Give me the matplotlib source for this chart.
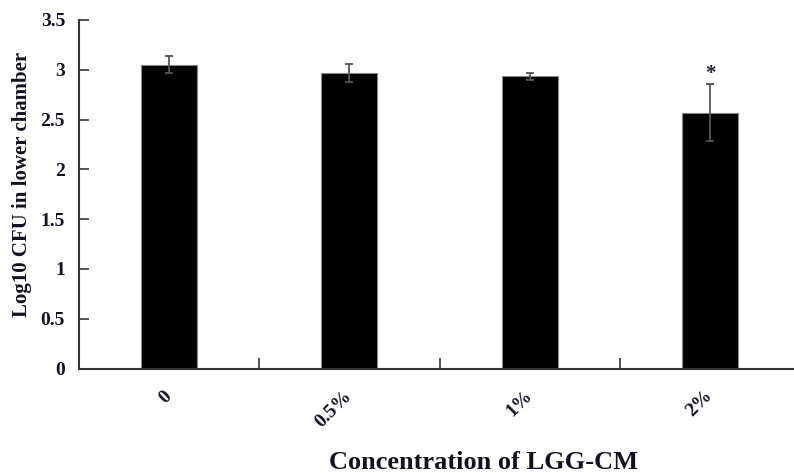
import matplotlib
matplotlib.use("Agg")
import matplotlib.pyplot as plt

categories = ["0", "0.5%", "1%", "2%"]
values = [3.05, 2.97, 2.935, 2.57]
errors = [0.085, 0.09, 0.035, 0.29]
yticks = [0, 0.5, 1, 1.5, 2, 2.5, 3, 3.5]
ytick_labels = ["0", "0.5", "1", "1.5", "2", "2.5", "3", "3.5"]

plt.rcParams['font.family'] = ['Liberation Serif', 'DejaVu Serif']
plt.rcParams['font.weight'] = 'bold'

fig = plt.figure(figsize=(7.94, 4.73), dpi=100)
ax = fig.add_axes([79/794, (473-368.5)/473, 1 - 79/794, (368.5-20)/473])

x = list(range(len(categories)))
ax.bar(x, values, width=0.31, color='black', edgecolor='#888888', linewidth=0.8, zorder=2)
ax.errorbar(x, values, yerr=errors, fmt='none', ecolor='#555555', elinewidth=1.3,
            capsize=3, capthick=1.3, zorder=3)
ax.text(3, values[3] + errors[3] + 0.1, "*", ha='center', va='center', fontsize=15,
        fontweight='bold', color='#222233')

ax.set_xlim(-0.5, 3.466)
ax.set_ylim(0, 3.5)
ax.set_yticks(yticks)
ax.set_yticklabels(ytick_labels, fontsize=14, fontweight='bold', color='#111122')
ax.set_xticks([0.5, 1.5, 2.5], minor=False)
ax.set_xticklabels([])
ax.set_xticks(x, minor=True)
ax.set_xticklabels(categories, minor=True, rotation=45, ha='right', va='center',
                   rotation_mode='anchor', fontsize=14, fontweight='bold', color='#111122')
ax.tick_params(axis='x', which='minor', length=0, pad=18)
ax.tick_params(axis='x', which='major', direction='in', length=8, width=1.2, color='#333333')
ax.tick_params(axis='y', direction='in', length=7, width=1.2, color='#333333', pad=10)

for s in ['top', 'right']:
    ax.spines[s].set_visible(False)
for s in ['left', 'bottom']:
    ax.spines[s].set_linewidth(1.5)
    ax.spines[s].set_color('#333333')

ax.set_ylabel("Log10 CFU in lower chamber", fontsize=15, fontweight='bold', color='#111122')
ax.yaxis.set_label_coords(-0.066, 0.527)
fig.text(484/794, 1 - 462/473, "Concentration of LGG-CM", ha='center', va='center',
         fontsize=19, fontweight='bold', color='#111122')

fig.savefig("out.png", dpi=100)
